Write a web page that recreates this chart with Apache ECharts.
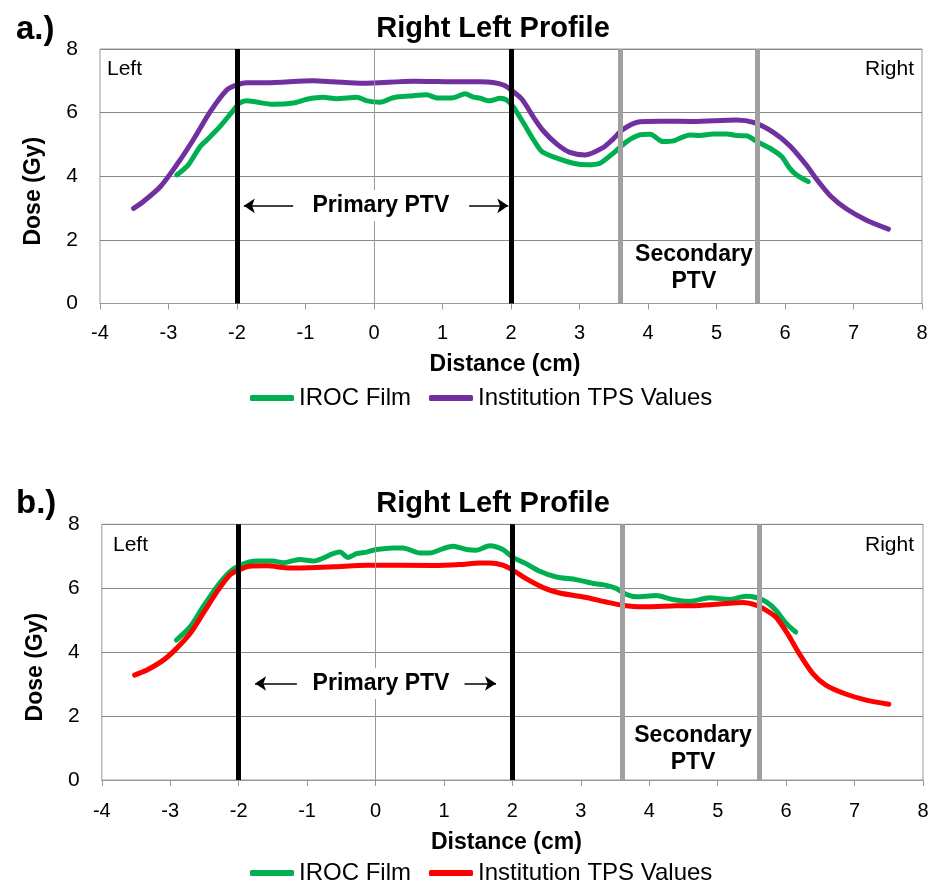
<!DOCTYPE html>
<html>
<head>
<meta charset="utf-8">
<title>Right Left Profile</title>
<script src="https://cdn.jsdelivr.net/npm/echarts@6/dist/echarts.min.js"></script>
<style>
    html, body { margin: 0; padding: 0; background: #fff; }
    .chart { width: 934px; height: 443px; }
</style>
</head>
<body>
<div id="profile_a" class="chart"></div>
<div id="profile_b" class="chart"></div>
<script>

// ------------------------------
// Data
// ------------------------------

// a.) IROC film
var filmA_x = [-2.88, -2.71, -2.54, -2.44, -2.25, -2.05, -1.96, -1.86, -1.47, -1.18, -0.98, -0.74, -0.55, -0.25, -0.10, 0.09, 0.28, 0.57, 0.77, 0.92, 1.16, 1.33, 1.45, 1.55, 1.69, 1.84, 1.94, 2.03, 2.18, 2.33, 2.45, 2.67, 2.91, 3.11, 3.30, 3.49, 3.69, 3.88, 4.03, 4.22, 4.37, 4.61, 4.76, 4.95, 5.15, 5.29, 5.44, 5.59, 5.78, 5.95, 6.07, 6.17, 6.34];
var filmA_y = [4.04, 4.36, 4.93, 5.14, 5.56, 6.08, 6.30, 6.37, 6.26, 6.30, 6.42, 6.48, 6.44, 6.48, 6.37, 6.33, 6.47, 6.53, 6.56, 6.46, 6.47, 6.59, 6.49, 6.45, 6.37, 6.45, 6.39, 6.19, 5.68, 5.14, 4.78, 4.57, 4.41, 4.36, 4.41, 4.72, 5.09, 5.30, 5.32, 5.09, 5.11, 5.30, 5.28, 5.33, 5.33, 5.28, 5.27, 5.09, 4.88, 4.62, 4.25, 4.04, 3.83];

// a.) Institution TPS
var tpsA_x = [-3.51, -3.37, -3.12, -2.88, -2.64, -2.39, -2.15, -2.00, -1.86, -1.57, -0.89, -0.60, -0.16, 0.57, 1.26, 1.55, 1.74, 1.89, 2.01, 2.16, 2.33, 2.47, 2.67, 2.86, 3.08, 3.35, 3.49, 3.64, 3.88, 4.18, 4.66, 5.29, 5.54, 5.83, 6.07, 6.32, 6.46, 6.66, 6.90, 7.19, 7.51];
var tpsA_y = [2.99, 3.20, 3.67, 4.36, 5.14, 6.03, 6.71, 6.87, 6.94, 6.94, 7.00, 6.97, 6.92, 6.99, 6.97, 6.97, 6.95, 6.87, 6.70, 6.42, 5.85, 5.43, 5.01, 4.75, 4.67, 4.91, 5.17, 5.48, 5.71, 5.73, 5.72, 5.77, 5.69, 5.38, 4.96, 4.33, 3.91, 3.39, 2.97, 2.62, 2.34];

// b.) IROC film
var filmB_x = [-2.91, -2.71, -2.52, -2.32, -2.13, -1.98, -1.74, -1.50, -1.35, -1.11, -0.91, -0.62, -0.52, -0.40, -0.28, -0.13, 0.01, 0.26, 0.40, 0.65, 0.79, 0.99, 1.13, 1.23, 1.33, 1.47, 1.67, 1.86, 2.01, 2.20, 2.40, 2.64, 2.93, 3.18, 3.37, 3.52, 3.66, 3.81, 4.10, 4.34, 4.59, 4.88, 5.17, 5.41, 5.56, 5.71, 5.85, 6.00, 6.14];
var filmB_y = [4.38, 4.79, 5.42, 6.04, 6.51, 6.72, 6.85, 6.85, 6.80, 6.90, 6.85, 7.08, 7.13, 6.96, 7.08, 7.13, 7.21, 7.26, 7.26, 7.10, 7.10, 7.24, 7.31, 7.27, 7.21, 7.19, 7.33, 7.21, 6.96, 6.77, 6.53, 6.35, 6.27, 6.15, 6.09, 5.99, 5.81, 5.73, 5.77, 5.65, 5.59, 5.70, 5.65, 5.75, 5.71, 5.57, 5.31, 4.90, 4.63];

// b.) Institution TPS
var tpsB_x = [-3.52, -3.34, -3.10, -2.91, -2.71, -2.52, -2.32, -2.13, -2.01, -1.84, -1.59, -1.25, -0.62, -0.13, 0.84, 1.23, 1.52, 1.67, 1.86, 2.01, 2.20, 2.45, 2.69, 3.08, 3.37, 3.61, 3.91, 4.39, 4.73, 5.12, 5.36, 5.56, 5.71, 5.85, 6.02, 6.19, 6.39, 6.58, 6.87, 7.17, 7.50];
var tpsB_y = [3.28, 3.44, 3.75, 4.11, 4.58, 5.21, 5.88, 6.41, 6.56, 6.69, 6.70, 6.63, 6.67, 6.72, 6.71, 6.74, 6.79, 6.79, 6.72, 6.56, 6.30, 6.02, 5.85, 5.71, 5.57, 5.47, 5.42, 5.45, 5.46, 5.52, 5.55, 5.47, 5.31, 5.10, 4.58, 3.96, 3.33, 2.97, 2.69, 2.50, 2.37];

// PTV edges (cm)
var primaryEdges = [-2, 2];
var secondaryEdges = [3.6, 5.6];

var seriesNames = ['IROC Film', 'Institution TPS Values'];


// ------------------------------
// Setup
// ------------------------------

var FONT = '"Liberation Sans", Arial, Helvetica, sans-serif';

var pairs = function(xs, ys) {
    return xs.map(function(x, i) { return [x, ys[i]]; });
};

var makeProfile = function(elementId, panel) {
    var element = document.getElementById(elementId);
    if (!element) return;

    var chart = echarts.init(element);

    // Vertical PTV edge lines, drawn over the curves
    var edgeLines = [];
    primaryEdges.forEach(function(x) {
        edgeLines.push({ xAxis: x, lineStyle: { color: '#000', width: 5, type: 'solid' } });
    });
    secondaryEdges.forEach(function(x) {
        edgeLines.push({ xAxis: x, lineStyle: { color: '#a0a0a0', width: 5, type: 'solid' } });
    });

    // Arrows next to "Primary PTV"
    var arrowY = panel.primaryLabel[1];
    var arrows = [
        [{ coord: [panel.arrowLeft[0], arrowY] }, { coord: [panel.arrowLeft[1], arrowY] }],
        [{ coord: [panel.arrowRight[0], arrowY] }, { coord: [panel.arrowRight[1], arrowY] }]
    ];

    var labelStyle = { fontFamily: FONT, fontSize: 23, fontWeight: 'bold', color: '#000' };

    chart.setOption({
        animation: false,
        textStyle: { fontFamily: FONT },

        title: [
            {
                text: panel.letter,
                left: 11,
                top: panel.letterTop,
                textStyle: { fontFamily: FONT, fontSize: 33, fontWeight: 'bold', color: '#000' }
            },
            {
                text: 'Right Left Profile',
                left: 488,
                textAlign: 'center',
                top: panel.titleTop,
                textStyle: { fontFamily: FONT, fontSize: 29, fontWeight: 'bold', color: '#000' }
            }
        ],

        legend: {
            data: seriesNames,
            left: 245,
            top: panel.legendTop,
            icon: 'roundRect',
            itemWidth: 44,
            itemHeight: 6,
            itemGap: 18,
            selectedMode: false,
            textStyle: { fontFamily: FONT, fontSize: 24, color: '#000' }
        },

        grid: {
            left: panel.gridLeft,
            right: panel.gridRight,
            top: panel.gridTop,
            bottom: panel.gridBottom,
            show: true,
            borderColor: '#999',
            borderWidth: 1
        },

        xAxis: {
            type: 'value',
            min: -4,
            max: 8,
            interval: 1,
            name: 'Distance (cm)',
            nameLocation: 'middle',
            nameGap: panel.xNameGap,
            nameTextStyle: Object.assign({ padding: [0, 12, 0, 0] }, labelStyle),
            axisLine: { show: true, onZero: false, lineStyle: { color: '#999', width: 1 } },
            axisTick: { show: true, length: 6, lineStyle: { color: '#999' } },
            axisLabel: { fontFamily: FONT, fontSize: 20, color: '#000', margin: panel.xLabelMargin },
            splitLine: { show: false }
        },

        yAxis: {
            type: 'value',
            min: 0,
            max: 8,
            interval: 2,
            name: 'Dose (Gy)',
            nameLocation: 'middle',
            nameRotate: 90,
            nameGap: 55,
            nameTextStyle: Object.assign({ padding: [0, 30, 0, 0] }, labelStyle),
            axisLine: { show: true, lineStyle: { color: '#999', width: 1 } },
            axisTick: { show: false },
            axisLabel: { fontFamily: FONT, fontSize: 21, color: '#000', margin: 22 },
            splitLine: { show: true, lineStyle: { color: '#888', width: 1 } }
        },

        graphic: [
            {
                type: 'text',
                left: panel.leftText[0],
                top: panel.leftText[1],
                style: { text: 'Left', font: '21px ' + FONT, fill: '#000' }
            },
            {
                type: 'text',
                right: 20,
                top: panel.leftText[1],
                style: { text: 'Right', font: '21px ' + FONT, fill: '#000' }
            }
        ],

        series: [
            // Axis line at x = 0 (under the curves)
            {
                name: 'zero',
                type: 'line',
                data: [],
                z: 1,
                silent: true,
                markLine: {
                    silent: true,
                    symbol: ['none', 'none'],
                    label: { show: false },
                    lineStyle: { color: '#999', width: 1, type: 'solid' },
                    data: [{ xAxis: 0 }]
                }
            },
            {
                name: seriesNames[0],
                type: 'line',
                data: pairs(panel.film[0], panel.film[1]),
                color: '#00b050',
                showSymbol: false,
                smooth: 0.25,
                z: 2,
                lineStyle: { width: 5, cap: 'round', join: 'round' }
            },
            {
                name: seriesNames[1],
                type: 'line',
                data: pairs(panel.tps[0], panel.tps[1]),
                color: panel.tpsColor,
                showSymbol: false,
                smooth: 0.25,
                z: 3,
                lineStyle: { width: 5, cap: 'round', join: 'round' }
            },
            // PTV edge lines
            {
                name: 'edges',
                type: 'line',
                data: [],
                z: 4,
                silent: true,
                markLine: {
                    silent: true,
                    symbol: ['none', 'none'],
                    label: { show: false },
                    data: edgeLines
                }
            },
            // PTV annotations
            {
                name: 'PTV',
                type: 'scatter',
                z: 5,
                silent: true,
                symbolSize: 0,
                itemStyle: { color: '#000', opacity: 1 },
                data: [
                    { value: panel.primaryLabel, label: {
                        show: true, position: 'inside', formatter: 'Primary PTV',
                        backgroundColor: '#fff', padding: [4, 6], fontFamily: FONT,
                        fontSize: 23, fontWeight: 'bold', color: '#000'
                    } },
                    { value: panel.secondaryLabel, label: {
                        show: true, position: 'inside', formatter: 'Secondary\nPTV',
                        lineHeight: 27, fontFamily: FONT,
                        fontSize: 23, fontWeight: 'bold', color: '#000'
                    } }
                ],
                markLine: {
                    silent: true,
                    symbol: ['none', 'arrow'],
                    symbolSize: 11,
                    label: { show: false },
                    itemStyle: { color: '#000' },
                    lineStyle: { color: '#000', width: 1.5, type: 'solid' },
                    data: arrows
                }
            }
        ]
    });
};


// ------------------------------
// Initialize
// ------------------------------

makeProfile('profile_a', {
    letter: 'a.)',
    letterTop: 8,
    titleTop: 9,
    legendTop: 381,
    gridLeft: 100,
    gridRight: 12,
    gridTop: 49,
    gridBottom: 139.5,
    xLabelMargin: 20,
    xNameGap: 50,
    leftText: [107, 59],
    film: [filmA_x, filmA_y],
    tps: [tpsA_x, tpsA_y],
    tpsColor: '#7030a0',
    primaryLabel: [0.10, 3.07],
    arrowLeft: [-1.18, -1.90],
    arrowRight: [1.39, 1.96],
    secondaryLabel: [4.67, 1.12]
});

makeProfile('profile_b', {
    letter: 'b.)',
    letterTop: 39,
    titleTop: 41,
    legendTop: 413,
    gridLeft: 101.8,
    gridRight: 11,
    gridTop: 81.3,
    gridBottom: 106,
    xLabelMargin: 21,
    xNameGap: 51,
    leftText: [113, 92],
    film: [filmB_x, filmB_y],
    tps: [tpsB_x, tpsB_y],
    tpsColor: '#ff0000',
    primaryLabel: [0.08, 3.02],
    arrowLeft: [-1.15, -1.76],
    arrowRight: [1.30, 1.76],
    secondaryLabel: [4.64, 0.97]
});

</script>
</body>
</html>
